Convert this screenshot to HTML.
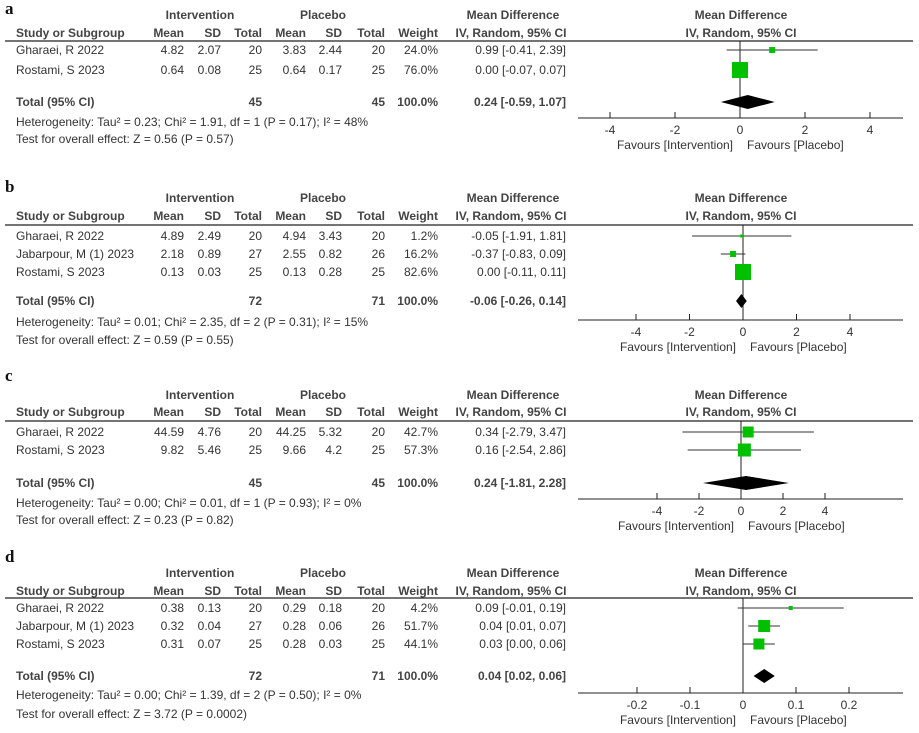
<!DOCTYPE html>
<html><head><meta charset="utf-8"><style>
body{margin:0;background:#fff;}
svg{display:block;font-family:"Liberation Sans",Arial,sans-serif;font-size:12px;fill:#333;}
.b{font-weight:bold;fill:#444;}
.lab{font-family:"Liberation Serif",serif;font-weight:bold;font-size:17px;fill:#111;}
</style></head><body>
<svg id="s" width="919" height="733" xmlns="http://www.w3.org/2000/svg"></svg>
<script>
const P=[
{lab:"a",ly:8,h:[15,33],line:41,rows:[50,70],tot:102,het:122,test:139,ax:118,z:740,u:32.5,ticks:[-4,-2,0,2,4],tl:["-4","-2","0","2","4"],
 d:[["Gharaei, R 2022","4.82","2.07","20","3.83","2.44","20","24.0%","0.99 [-0.41, 2.39]",.99,-.41,2.39,6],
    ["Rostami, S 2023","0.64","0.08","25","0.64","0.17","25","76.0%","0.00 [-0.07, 0.07]",0,-.07,.07,16]],
 t:["45","45","0.24 [-0.59, 1.07]",.24,-.59,1.07],hs:"Heterogeneity: Tau² = 0.23; Chi² = 1.91, df = 1 (P = 0.17); I² = 48%",zt:"Test for overall effect: Z = 0.56 (P = 0.57)"},
{lab:"b",ly:186,h:[198,216],line:225,rows:[236,254,272],tot:301,het:322,test:340,ax:320,z:743,u:26.75,ticks:[-4,-2,0,2,4],tl:["-4","-2","0","2","4"],
 d:[["Gharaei, R 2022","4.89","2.49","20","4.94","3.43","20","1.2%","-0.05 [-1.91, 1.81]",-.05,-1.91,1.81,3],
    ["Jabarpour, M (1) 2023","2.18","0.89","27","2.55","0.82","26","16.2%","-0.37 [-0.83, 0.09]",-.37,-.83,.09,6],
    ["Rostami, S 2023","0.13","0.03","25","0.13","0.28","25","82.6%","0.00 [-0.11, 0.11]",0,-.11,.11,16]],
 t:["72","71","-0.06 [-0.26, 0.14]",-.06,-.26,.14],hs:"Heterogeneity: Tau² = 0.01; Chi² = 2.35, df = 2 (P = 0.31); I² = 15%",zt:"Test for overall effect: Z = 0.59 (P = 0.55)"},
{lab:"c",ly:375,h:[395,412],line:421,rows:[432,450],tot:483,het:503,test:520,ax:499,z:741,u:21,ticks:[-4,-2,0,2,4],tl:["-4","-2","0","2","4"],
 d:[["Gharaei, R 2022","44.59","4.76","20","44.25","5.32","20","42.7%","0.34 [-2.79, 3.47]",.34,-2.79,3.47,11],
    ["Rostami, S 2023","9.82","5.46","25","9.66","4.2","25","57.3%","0.16 [-2.54, 2.86]",.16,-2.54,2.86,13]],
 t:["45","45","0.24 [-1.81, 2.28]",.24,-1.81,2.28],hs:"Heterogeneity: Tau² = 0.00; Chi² = 0.01, df = 1 (P = 0.93); I² = 0%",zt:"Test for overall effect: Z = 0.23 (P = 0.82)"},
{lab:"d",ly:556,h:[573,591],line:598,rows:[608,626,644],tot:676,het:695,test:714,ax:693,z:743,u:530,ticks:[-.2,-.1,0,.1,.2],tl:["-0.2","-0.1","0","0.1","0.2"],
 d:[["Gharaei, R 2022","0.38","0.13","20","0.29","0.18","20","4.2%","0.09 [-0.01, 0.19]",.09,-.01,.19,4],
    ["Jabarpour, M (1) 2023","0.32","0.04","27","0.28","0.06","26","51.7%","0.04 [0.01, 0.07]",.04,.01,.07,12],
    ["Rostami, S 2023","0.31","0.07","25","0.28","0.03","25","44.1%","0.03 [0.00, 0.06]",.03,0,.06,11]],
 t:["72","71","0.04 [0.02, 0.06]",.04,.02,.06],hs:"Heterogeneity: Tau² = 0.00; Chi² = 1.39, df = 2 (P = 0.50); I² = 0%",zt:"Test for overall effect: Z = 3.72 (P = 0.0002)"}
];
let o="";
const T=(x,y,s,a,c)=>o+=`<text x="${x}" y="${y}" dy="0.35em" text-anchor="${a||'start'}"${c?` class="${c}"`:''}>${s}</text>`;
const L=(x1,y1,x2,y2,c,w)=>o+=`<line x1="${x1}" y1="${y1}" x2="${x2}" y2="${y2}" stroke="${c||'#222'}" stroke-width="${w||1}"/>`;
const cols=[184,221,262,306,342,385,438];
for(const p of P){
 o+=`<text x="5" y="${p.ly}" dy="0.35em" class="lab">${p.lab}</text>`;
 T(200,p.h[0],"Intervention","middle","b");T(323,p.h[0],"Placebo","middle","b");
 T(513,p.h[0],"Mean Difference","middle","b");T(741,p.h[0],"Mean Difference","middle","b");
 T(16,p.h[1],"Study or Subgroup","start","b");
 ["Mean","SD","Total","Mean","SD","Total","Weight"].forEach((s,i)=>T(cols[i],p.h[1],s,"end","b"));
 T(511,p.h[1],"IV, Random, 95% CI","middle","b");T(741,p.h[1],"IV, Random, 95% CI","middle","b");
 L(5,p.line,913,p.line,"#222",1.3);
 const X=v=>p.z+v*p.u;
 L(p.z,p.line,p.z,p.ax,"#222");
 p.d.forEach((r,i)=>{const y=p.rows[i];T(16,y,r[0]);for(let k=0;k<7;k++)T(cols[k],y,r[k+1],"end");T(566,y,r[8],"end");
  L(X(r[10]),y,X(r[11]),y,"#333");const s=r[12];o+=`<rect x="${X(r[9])-s/2}" y="${y-s/2}" width="${s}" height="${s}" fill="#00c000"/>`;});
 const y=p.tot;T(16,y,"Total (95% CI)","start","b");T(262,y,p.t[0],"end","b");T(385,y,p.t[1],"end","b");T(438,y,"100.0%","end","b");T(566,y,p.t[2],"end","b");
 o+=`<polygon points="${X(p.t[4])},${y} ${X(p.t[3])},${y-7} ${X(p.t[5])},${y} ${X(p.t[3])},${y+7}" fill="#000"/>`;
 T(16,p.het,p.hs);T(16,p.test,p.zt);
 L(578,p.ax,903,p.ax,"#222");
 p.ticks.forEach((t,i)=>{L(X(t),p.ax-6,X(t),p.ax,"#222");T(X(t),p.ax+12,p.tl[i],"middle");});
 T(p.z-7,p.ax+27,"Favours [Intervention]","end");T(p.z+7,p.ax+27,"Favours [Placebo]","start");
}
document.getElementById("s").innerHTML=o;
</script>
</body></html>
